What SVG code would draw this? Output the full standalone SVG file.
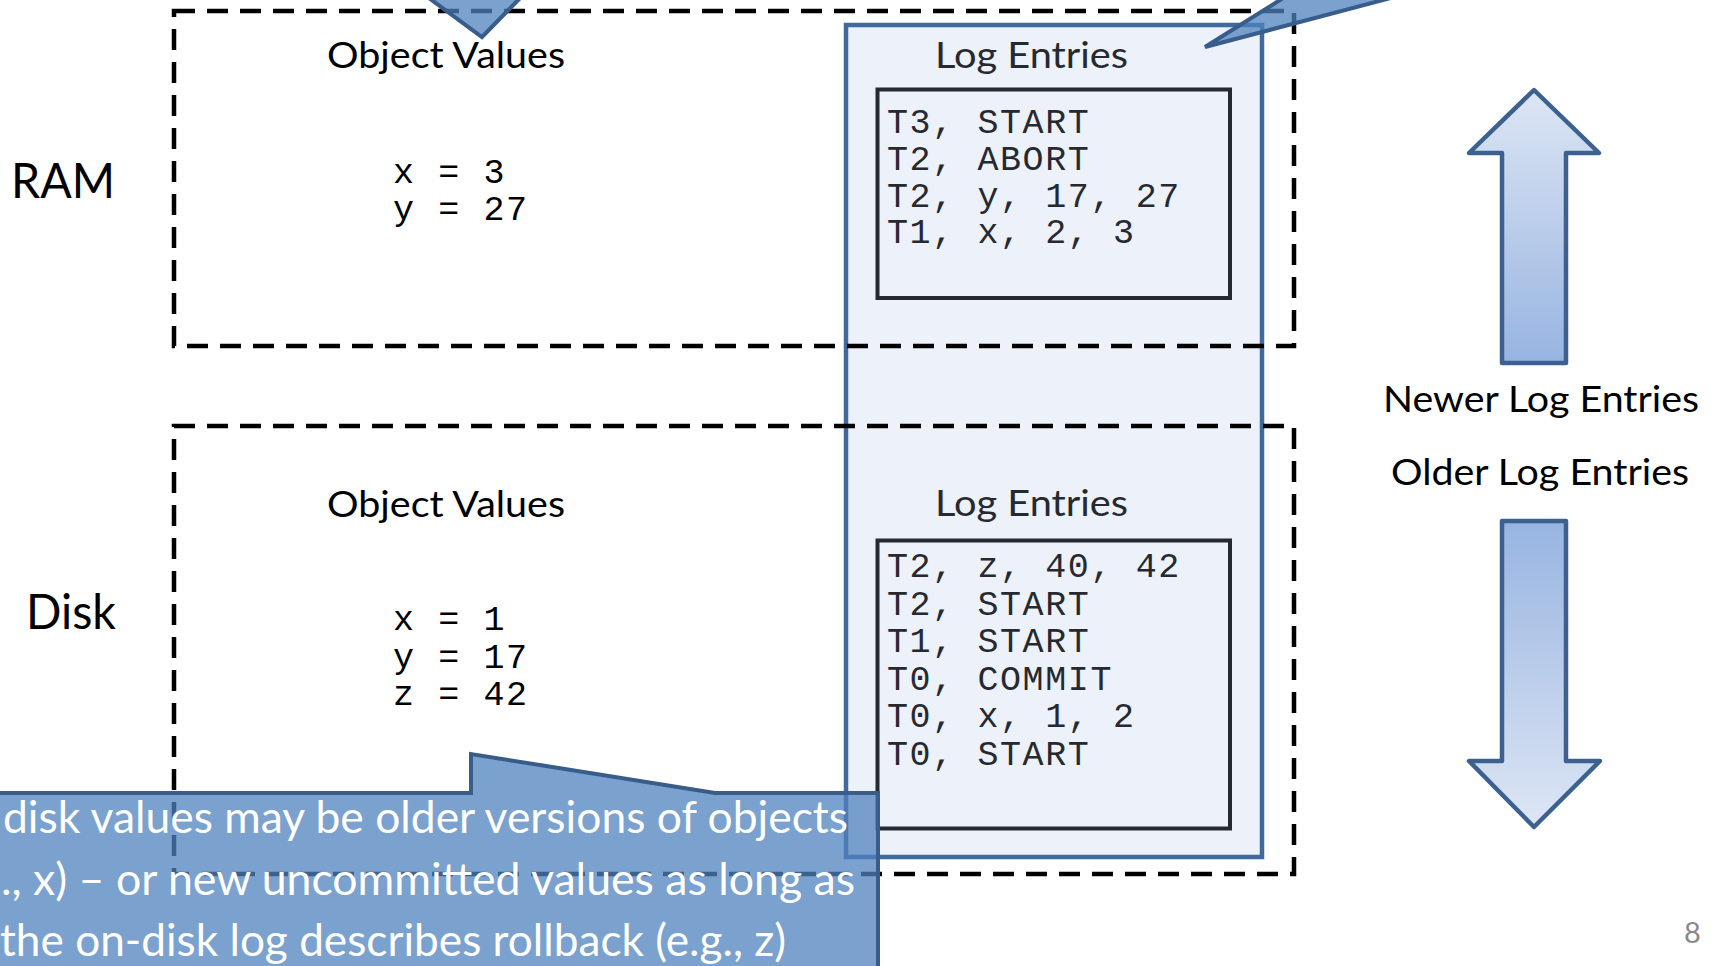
<svg xmlns="http://www.w3.org/2000/svg" width="1716" height="966" viewBox="0 0 1716 966">
  <defs>
    <linearGradient id="gradUp" x1="0" y1="0" x2="0" y2="1">
      <stop offset="0" stop-color="#dde6f4"/>
      <stop offset="1" stop-color="#97b4e1"/>
    </linearGradient>
    <linearGradient id="gradDown" x1="0" y1="0" x2="0" y2="1">
      <stop offset="0" stop-color="#97b4e1"/>
      <stop offset="1" stop-color="#dde6f4"/>
    </linearGradient>
    <style>
      .label { font-family: "Lato", "Liberation Sans", sans-serif; fill: #000; }
      .lbl-big { font-size: 48px; }
      .lbl-mid { font-size: 37px; }
      .log-title { fill: #262a30; }
      .mono { font-family: "Liberation Mono", "DejaVu Sans Mono", monospace; font-size: 35px; letter-spacing: 1.6px; }
      .mono-log { fill: #262a30; }
      .dashed { fill: none; stroke: #000; stroke-width: 4.5; stroke-dasharray: 21 12; }
      .log-col { fill: #edf1f9; stroke: #3f6a9e; stroke-width: 4.5; }
      .log-box { fill: none; stroke: #262a30; stroke-width: 4; }
      .big-arrow { stroke: #3c6190; stroke-width: 4.5; stroke-linejoin: round; }
      .callout { fill: #4f81bd; fill-opacity: 0.75; stroke: #385d8a; stroke-width: 4; stroke-linejoin: miter; }
      .callout-text { font-family: "Lato", "Liberation Sans", sans-serif; font-size: 45px; fill: #fff; }
      .page-num { font-family: "Lato", "Liberation Sans", sans-serif; font-size: 29px; fill: #898989; }
    </style>
  </defs>

  <rect x="0" y="0" width="1716" height="966" fill="#fff"/>

  <!-- Log column spanning both memory levels -->
  <g id="log-column">
    <rect class="log-col" x="846" y="25" width="416" height="832"/>
  </g>

  <!-- RAM level -->
  <g id="ram">
    <text class="label lbl-big" x="11" y="198" textLength="104" lengthAdjust="spacingAndGlyphs">RAM</text>
    <text class="label lbl-mid" x="327" y="68" textLength="238" lengthAdjust="spacingAndGlyphs">Object Values</text>
    <text class="mono" x="393" y="183">x = 3</text>
    <text class="mono" x="393" y="220">y = 27</text>
    <text class="label lbl-mid log-title" x="935" y="68" textLength="193" lengthAdjust="spacingAndGlyphs">Log Entries</text>
    <rect class="log-box" x="877.5" y="89.5" width="352.5" height="208.5"/>
    <text class="mono mono-log" x="887" y="133">T3, START</text>
    <text class="mono mono-log" x="887" y="169.8">T2, ABORT</text>
    <text class="mono mono-log" x="887" y="206.6">T2, y, 17, 27</text>
    <text class="mono mono-log" x="887" y="243.4">T1, x, 2, 3</text>
    <rect class="dashed" x="174" y="11" width="1120" height="335"/>
  </g>

  <!-- Disk level -->
  <g id="disk">
    <text class="label lbl-big" x="26" y="629" textLength="90" lengthAdjust="spacingAndGlyphs">Disk</text>
    <text class="label lbl-mid" x="327" y="517" textLength="238" lengthAdjust="spacingAndGlyphs">Object Values</text>
    <text class="mono" x="393" y="630">x = 1</text>
    <text class="mono" x="393" y="668">y = 17</text>
    <text class="mono" x="393" y="705">z = 42</text>
    <text class="label lbl-mid log-title" x="935" y="516" textLength="193" lengthAdjust="spacingAndGlyphs">Log Entries</text>
    <rect class="log-box" x="877.5" y="540.5" width="352.5" height="288"/>
    <text class="mono mono-log" x="887" y="577">T2, z, 40, 42</text>
    <text class="mono mono-log" x="887" y="614.6">T2, START</text>
    <text class="mono mono-log" x="887" y="652.2">T1, START</text>
    <text class="mono mono-log" x="887" y="689.8">T0, COMMIT</text>
    <text class="mono mono-log" x="887" y="727.4">T0, x, 1, 2</text>
    <text class="mono mono-log" x="887" y="765">T0, START</text>
    <rect class="dashed" x="174" y="426" width="1120" height="448"/>
  </g>

  <!-- Log ordering arrows -->
  <g id="newer-entries">
    <polygon class="big-arrow" fill="url(#gradUp)" points="1534,90 1599,153 1566,153 1566,363 1502,363 1502,153 1469,153"/>
    <text class="label lbl-mid" x="1383" y="412" textLength="316" lengthAdjust="spacingAndGlyphs">Newer Log Entries</text>
  </g>
  <g id="older-entries">
    <text class="label lbl-mid" x="1391" y="485" textLength="298" lengthAdjust="spacingAndGlyphs">Older Log Entries</text>
    <polygon class="big-arrow" fill="url(#gradDown)" points="1502,521 1566,521 1566,761 1600,761 1534,827 1469,761 1502,761"/>
  </g>

  <!-- Callouts -->
  <g id="callouts">
    <polygon class="callout" points="418,-10 528,-10 482,37"/>
    <polygon class="callout" points="1205,47 1296,-10 1421,-10"/>
    <polygon class="callout" points="-10,793 471,793 471,754 715,793 878,793 878,980 -10,980"/>
    <text class="callout-text" x="3" y="833" textLength="845" lengthAdjust="spacingAndGlyphs">disk values may be older versions of objects</text>
    <text class="callout-text" x="1" y="895" textLength="854" lengthAdjust="spacingAndGlyphs">., x) – or new uncommitted values as long as</text>
    <text class="callout-text" x="0" y="956" textLength="786" lengthAdjust="spacingAndGlyphs">the on-disk log describes rollback (e.g., z)</text>
  </g>

  <text class="page-num" x="1684" y="943">8</text>
</svg>
